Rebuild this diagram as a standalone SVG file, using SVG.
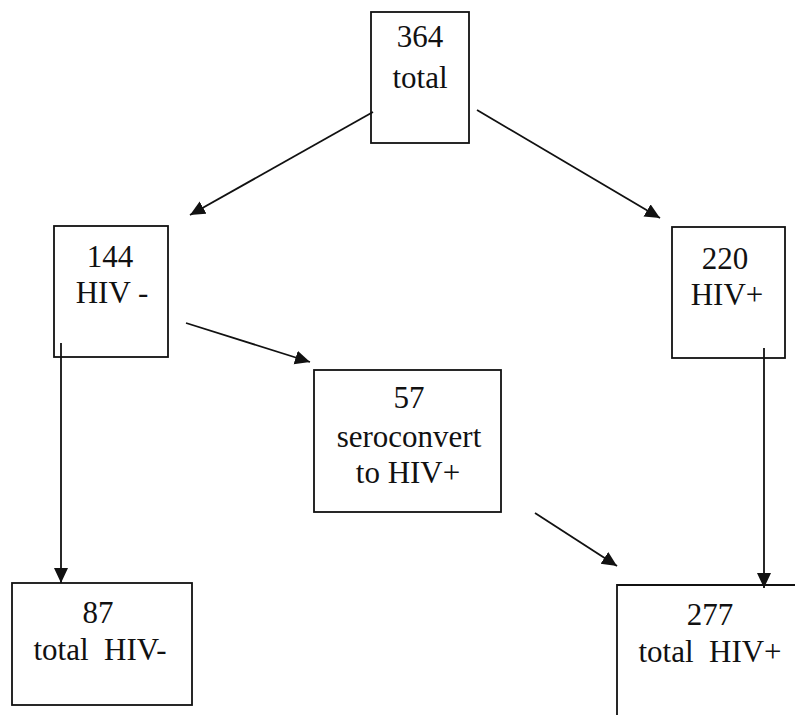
<svg xmlns="http://www.w3.org/2000/svg" width="795" height="715" viewBox="0 0 795 715">
<style>
.box{fill:none;stroke:#111;stroke-width:1.8}
.t{font-family:"Liberation Serif","Times New Roman",serif;font-size:31px;fill:#111;text-anchor:middle}
.c{stroke:#111;stroke-width:1.8;fill:none;marker-end:url(#ah)}
</style>
<defs>
<marker id="ah" markerUnits="userSpaceOnUse" markerWidth="18" markerHeight="16" refX="15" refY="7" orient="auto">
<path d="M0,0 L15,7 L0,14 Z" fill="#111"/>
</marker>
</defs>
<rect width="795" height="715" fill="#fff"/>
<g id="n364">
<rect class="box" x="371" y="12" width="98" height="131"/>
<text class="t" x="420" y="47">364</text>
<text class="t" x="420" y="88">total</text>
</g>
<g id="n144">
<rect class="box" x="54" y="226" width="114" height="131"/>
<text class="t" x="110" y="267">144</text>
<text class="t" x="112" y="303">HIV -</text>
</g>
<g id="n220">
<rect class="box" x="672" y="227" width="113" height="131"/>
<text class="t" x="725" y="269">220</text>
<text class="t" x="727" y="305">HIV+</text>
</g>
<g id="n57">
<rect class="box" x="314" y="370" width="187" height="142"/>
<text class="t" x="409" y="408">57</text>
<text class="t" x="409" y="447">seroconvert</text>
<text class="t" x="408" y="483">to HIV+</text>
</g>
<g id="n87">
<rect class="box" x="12" y="583" width="180" height="122"/>
<text class="t" x="98" y="623">87</text>
<text class="t" x="100" y="660" xml:space="preserve">total  HIV-</text>
</g>
<g id="n277">
<path class="box" d="M810,585 H617 V715"/>
<text class="t" x="710" y="625">277</text>
<text class="t" x="710" y="662" xml:space="preserve">total  HIV+</text>
</g>
<g id="connectors">
<line class="c" x1="373" y1="112" x2="190" y2="215"/>
<line class="c" x1="477" y1="110" x2="660" y2="218"/>
<line class="c" x1="186" y1="323" x2="310" y2="362"/>
<line class="c" x1="535" y1="513" x2="617" y2="566"/>
<line class="c" x1="61" y1="343" x2="61" y2="583"/>
<line class="c" x1="764" y1="348" x2="764" y2="588"/>
</g>
</svg>
